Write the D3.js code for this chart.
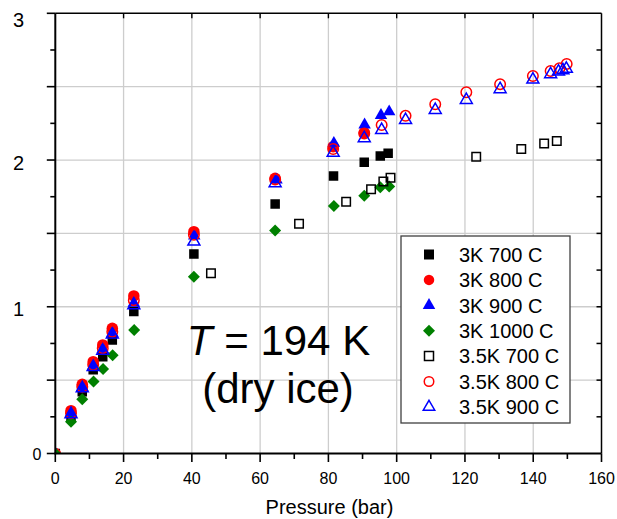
<!DOCTYPE html>
<html>
<head>
<meta charset="utf-8">
<script src="https://cdn.jsdelivr.net/npm/d3@7"></script>
<style>
  html, body { margin: 0; padding: 0; background: #fff; }
  svg { display: block; font-family: "Liberation Sans", Arial, sans-serif; }
</style>
</head>
<body>
<svg id="chart" width="617" height="519"></svg>
<script>
// Axis ticks
const xTicks = [0, 20, 40, 60, 80, 100, 120, 140, 160];
const yTickLabels = [0, 1, 2, 3];

// 3K 700 C (filled squares)
const p3K700 = [0, 4.6, 7.9, 11.1, 13.9, 16.7, 23.0, 40.6, 64.4, 81.5, 90.5, 95.2, 97.5];
const v3K700 = [0, 0.25, 0.42, 0.57, 0.66, 0.774, 0.967, 1.36, 1.70, 1.892, 1.985, 2.028, 2.046];

// 3K 800 C (filled circles)
const p3K800 = [0, 4.6, 7.9, 11.1, 13.9, 16.7, 23.0, 40.6, 64.4, 81.4, 90.5];
const v3K800 = [0, 0.292, 0.472, 0.626, 0.74, 0.853, 1.074, 1.512, 1.876, 2.091, 2.187];

// 3K 900 C (filled triangles)
const p3K900 = [0, 4.6, 7.9, 11.1, 13.9, 16.7, 23.0, 40.7, 64.8, 81.6, 90.6, 95.4, 97.8];
const v3K900 = [0, 0.274, 0.451, 0.596, 0.71, 0.82, 1.024, 1.483, 1.864, 2.115, 2.24, 2.305, 2.33];

// 3K 1000 C (diamonds)
const p3K1000 = [0, 4.6, 7.9, 11.2, 14.0, 16.8, 23.1, 40.6, 64.4, 81.6, 90.5, 95.2, 97.8];
const v3K1000 = [0, 0.217, 0.369, 0.49, 0.576, 0.669, 0.842, 1.205, 1.519, 1.687, 1.757, 1.815, 1.819];

// 3.5K 700 C (open squares)
const p35K700 = [45.6, 71.4, 85.2, 92.5, 96.1, 98.2, 123.3, 136.5, 143.2, 146.9];
const v35K700 = [1.228, 1.566, 1.716, 1.801, 1.853, 1.880, 2.023, 2.076, 2.112, 2.13];

// 3.5K 800 C (open circles)
const p35K800 = [4.6, 7.9, 11.1, 13.9, 16.7, 23.0, 40.6, 64.4, 81.4, 90.5, 95.6, 102.6, 111.3, 120.4, 130.3, 139.9, 145.1, 147.7, 149.8];
const v35K800 = [0.275, 0.455, 0.605, 0.718, 0.83, 1.045, 1.49, 1.868, 2.075, 2.18, 2.239, 2.301, 2.38, 2.462, 2.517, 2.573, 2.607, 2.626, 2.655];

// 3.5K 900 C (open triangles)
const p35K900 = [4.6, 7.9, 11.1, 13.9, 16.7, 23.0, 40.6, 64.4, 81.4, 90.5, 95.6, 102.6, 111.3, 120.4, 130.3, 139.9, 145.1, 147.4, 148.7, 149.7];
const v35K900 = [0.268, 0.445, 0.59, 0.70, 0.81, 1.01, 1.444, 1.842, 2.05, 2.149, 2.205, 2.273, 2.341, 2.409, 2.483, 2.548, 2.585, 2.603, 2.612, 2.622];

const seriesNames = ["3K 700 C", "3K 800 C", "3K 900 C", "3K 1000 C", "3.5K 700 C", "3.5K 800 C", "3.5K 900 C"];

const plotLeft = 55.3, plotRight = 601.5, plotTop = 13.3, plotBottom = 453.5;

const svg = d3.select("#chart");
const x = d3.scaleLinear().domain([0, 160]).range([plotLeft, plotRight]);
const y = d3.scaleLinear().domain([0, 3]).range([plotBottom, plotTop]);

// marker styles
const styles = [
  { shape: "square", fill: "#000", stroke: "none", size: 9.5 },
  { shape: "circle", fill: "#ff0000", stroke: "none", size: 11.5 },
  { shape: "triangle", fill: "#0000ff", stroke: "none", size: 12.5 },
  { shape: "diamond", fill: "#008000", stroke: "none", size: 12 },
  { shape: "square", fill: "none", stroke: "#000", size: 8.5 },
  { shape: "circle", fill: "none", stroke: "#ff0000", size: 10.5 },
  { shape: "triangle", fill: "none", stroke: "#0000ff", size: 12 }
];

function symbolPath(shape, s) {
  if (shape === "square") return d3.symbol(d3.symbolSquare, s * s)();
  if (shape === "circle") return d3.symbol(d3.symbolCircle, Math.PI * s * s / 4)();
  if (shape === "triangle") return d3.symbol(d3.symbolTriangle, Math.sqrt(3) / 4 * s * s)();
  if (shape === "diamond") return d3.symbol(d3.symbolSquare, s * s / 2)();
  return null;
}

const series = [
  [p3K700, v3K700], [p3K800, v3K800], [p3K900, v3K900], [p3K1000, v3K1000],
  [p35K700, v35K700], [p35K800, v35K800], [p35K900, v35K900]
];

// clip region for the plot
svg.append("defs").append("clipPath").attr("id", "plotClip")
  .append("rect").attr("x", plotLeft).attr("y", plotTop)
  .attr("width", plotRight - plotLeft).attr("height", plotBottom - plotTop);

// grid
const grid = svg.append("g");
grid.selectAll("line.vx").data(d3.range(20, 160, 20)).join("line")
  .attr("x1", d => x(d)).attr("x2", d => x(d))
  .attr("y1", plotTop).attr("y2", plotBottom)
  .attr("stroke", "#cdcdcd").attr("stroke-width", 1.3);
grid.selectAll("line.hy").data(d3.range(0.5, 3, 0.5)).join("line")
  .attr("x1", plotLeft).attr("x2", plotRight)
  .attr("y1", d => y(d)).attr("y2", d => y(d))
  .attr("stroke", "#cdcdcd").attr("stroke-width", 1.3);

// annotation
const note = svg.append("g").attr("font-size", 42).attr("fill", "#000").attr("text-anchor", "middle");
const t1 = note.append("text").attr("x", 278.5).attr("y", 355);
t1.append("tspan").attr("font-style", "italic").text("T");
t1.append("tspan").text(" = 194 K");
note.append("text").attr("x", 278).attr("y", 403).text("(dry ice)");

// data markers
const plot = svg.append("g").attr("clip-path", "url(#plotClip)");
series.forEach(([px, py], i) => {
  const st = styles[i];
  const pts = px.map((p, j) => [p, py[j]]);
  plot.append("g").selectAll("path").data(pts).join("path")
    .attr("d", symbolPath(st.shape, st.size))
    .attr("transform", d => `translate(${x(d[0])},${y(d[1])})` + (st.shape === "diamond" ? " rotate(45)" : ""))
    .attr("fill", st.fill)
    .attr("stroke", st.stroke)
    .attr("stroke-width", st.stroke === "none" ? 0 : 1.5);
});

// frame and axes
const axisG = svg.append("g");
// bottom ticks (outward)
axisG.selectAll("line.bt").data(d3.range(0, 161, 10)).join("line")
  .attr("x1", d => x(d)).attr("x2", d => x(d))
  .attr("y1", plotBottom).attr("y2", d => plotBottom + (d % 20 === 0 ? 8.5 : 5.5))
  .attr("stroke", "#000").attr("stroke-width", 1.6);
// top ticks (inward)
axisG.selectAll("line.tt").data(d3.range(20, 160, 20)).join("line")
  .attr("x1", d => x(d)).attr("x2", d => x(d))
  .attr("y1", plotTop).attr("y2", plotTop + 5)
  .attr("stroke", "#000").attr("stroke-width", 1.4);
// left ticks (outward)
axisG.selectAll("line.lt").data(d3.range(0, 3.01, 0.25)).join("line")
  .attr("x1", d => plotLeft - (Math.abs(d * 2 - Math.round(d * 2)) < 1e-6 ? 8.5 : 5))
  .attr("x2", plotLeft)
  .attr("y1", d => y(d)).attr("y2", d => y(d))
  .attr("stroke", "#000").attr("stroke-width", 1.6);
// right ticks (inward)
axisG.selectAll("line.rt").data(d3.range(0.25, 3, 0.25)).join("line")
  .attr("x1", plotRight - 5).attr("x2", plotRight)
  .attr("y1", d => y(d)).attr("y2", d => y(d))
  .attr("stroke", "#000").attr("stroke-width", 1.5);
// frame
axisG.append("line").attr("x1", plotLeft).attr("x2", plotRight).attr("y1", plotTop).attr("y2", plotTop)
  .attr("stroke", "#000").attr("stroke-width", 1.5);
axisG.append("line").attr("x1", plotRight).attr("x2", plotRight).attr("y1", plotTop).attr("y2", plotBottom)
  .attr("stroke", "#000").attr("stroke-width", 1.5);
axisG.append("line").attr("x1", plotLeft).attr("x2", plotLeft).attr("y1", plotTop).attr("y2", plotBottom + 0.8)
  .attr("stroke", "#000").attr("stroke-width", 2);
axisG.append("line").attr("x1", plotLeft - 0.8).attr("x2", plotRight).attr("y1", plotBottom).attr("y2", plotBottom)
  .attr("stroke", "#000").attr("stroke-width", 2);

// x tick labels
svg.append("g").attr("font-size", 16).attr("text-anchor", "middle").attr("fill", "#000")
  .selectAll("text").data(xTicks).join("text")
  .attr("x", d => x(d)).attr("y", 483.5).text(d => d);

// y tick labels
const yl = svg.append("g").attr("text-anchor", "end").attr("fill", "#000");
yl.selectAll("text").data(yTickLabels).join("text")
  .attr("font-size", d => d === 0 ? 16 : 20)
  .attr("x", d => d === 0 ? 41.5 : 24)
  .attr("y", d => d === 0 ? y(d) + 6 : (d === 3 ? 27.3 : y(d) + 9.5))
  .text(d => d);

// x axis title
svg.append("text").attr("x", 329.5).attr("y", 514).attr("text-anchor", "middle")
  .attr("font-size", 20).attr("fill", "#000").text("Pressure (bar)");

// legend
const lg = svg.append("g");
lg.append("rect").attr("x", 401).attr("y", 236).attr("width", 169).attr("height", 187)
  .attr("fill", "#fff").attr("stroke", "#404040").attr("stroke-width", 1.3);
const legendSizes = [10, 10.5, 12.5, 12, 9, 9.5, 11.5];
seriesNames.forEach((name, i) => {
  const cy = 254.5 + i * 25.4;
  const st = styles[i];
  lg.append("path")
    .attr("d", symbolPath(st.shape, legendSizes[i]))
    .attr("transform", `translate(429,${cy})` + (st.shape === "diamond" ? " rotate(45)" : ""))
    .attr("fill", st.fill).attr("stroke", st.stroke)
    .attr("stroke-width", st.stroke === "none" ? 0 : 1.5);
  lg.append("text").attr("x", 459).attr("y", cy + 7.2)
    .attr("font-size", 20).attr("fill", "#000").text(name);
});
</script>
</body>
</html>
